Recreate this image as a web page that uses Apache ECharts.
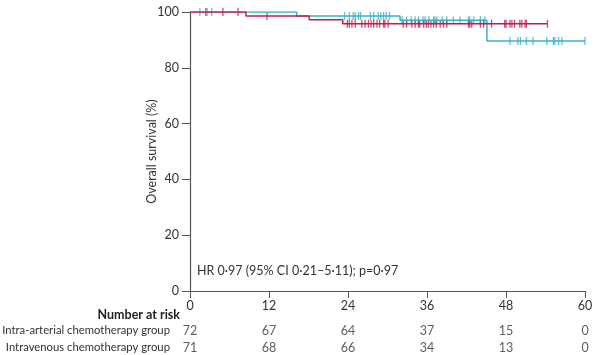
<!DOCTYPE html>
<html><head><meta charset="utf-8">
<script src="https://cdn.jsdelivr.net/npm/echarts@6/dist/echarts.min.js"></script>
<style>html,body{margin:0;padding:0;background:#fff}#c{width:594px;height:355px}</style>
</head><body><div id="c"></div>
<script>
// Kaplan-Meier steps [month, survival %]
const iaSteps = [[0,100],[8.5,98.6],[18.1,97.2],[23.2,95.8],[54.3,95.8]];
const ivSteps = [[0,100],[16.2,98.6],[31.9,97.0],[45.1,89.6],[60,89.6]];
// Censor marks [month, survival %]
const iaCensor = [[2.4,100],[5.0,100],[7.3,100],[11.7,98.6],
  [23.9,95.8],[24.2,95.8],[24.6,95.8],[25.1,95.8],[26.1,95.8],[26.6,95.8],[27.1,95.8],[27.5,95.8],[27.9,95.8],[28.4,95.8],[28.8,95.8],[29.4,95.8],[29.6,95.8],[30.1,95.8],
  [32.4,95.8],[32.9,95.8],[33.7,95.8],[34.2,95.8],[34.7,95.8],[34.9,95.8],[35.5,95.8],[35.9,95.8],[36.2,95.8],[36.6,95.8],[37.0,95.8],[37.4,95.8],[38.0,95.8],[38.5,95.8],[39.0,95.8],
  [42.3,95.8],[42.5,95.8],[42.8,95.8],[44.1,95.8],[44.6,95.8],[45.8,95.8],[47.8,95.8],[48.0,95.8],[48.6,95.8],[48.9,95.8],[49.3,95.8],[50.1,95.8],[50.4,95.8],[50.9,95.8],[51.1,95.8],[54.3,95.8]];
const ivCensor = [[1.5,100],[2.6,100],[3.3,100],
  [23.5,98.6],[24.2,98.6],[24.8,98.6],[25.1,98.6],[25.6,98.6],[25.9,98.6],[27.4,98.6],[27.9,98.6],[28.6,98.6],[29.0,98.6],[29.4,98.6],[29.8,98.6],[30.3,98.6],
  [32.2,97.0],[32.9,97.0],[33.6,97.0],[34.2,97.0],[34.7,97.0],[35.4,97.0],[35.7,97.0],[36.3,97.0],[37.0,97.0],[37.2,97.0],[37.5,97.0],[38.3,97.0],[39.0,97.0],[40.0,97.0],[41.0,97.0],[42.3,97.0],[42.5,97.0],[43.1,97.0],[44.1,97.0],[44.8,97.0],
  [48.6,89.6],[49.8,89.6],[50.2,89.6],[51.1,89.6],[52.1,89.6],[54.2,89.6],[55.2,89.6],[55.4,89.6],[56.0,89.6],[56.5,89.6],[60.0,89.6]];
// Number at risk
const riskTimes = [0,12,24,36,48,60];
const groups = ['Intra-arterial chemotherapy group','Intravenous chemotherapy group'];
const iaRisk = [72,67,64,37,15,0];
const ivRisk = [71,68,66,34,13,0];
const xTicks = [0,12,24,36,48,60];
const yTicks = [0,20,40,60,80,100];

const RED = '#c21c4f', CYAN = '#3bb2ca', AX = '#555';
const FONT = 'Lato, "Open Sans", sans-serif';
const chart = echarts.init(document.getElementById('c'));
const riskData = [];
riskTimes.forEach((t,i)=>{ riskData.push([t, groups[0], iaRisk[i]]); riskData.push([t, groups[1], ivRisk[i]]); });
chart.setOption({
  animation:false,
  textStyle:{fontFamily:FONT},
  grid:[{left:190,right:9,top:12,bottom:64,containLabel:false,outerBoundsMode:'none'},
        {left:190,right:9,top:322,height:34,containLabel:false,outerBoundsMode:'none'}],
  xAxis:[{type:'value',gridIndex:0,min:0,max:60,interval:12,
    axisLine:{show:true,lineStyle:{color:AX,width:1.2}},
    axisTick:{show:true,length:7,lineStyle:{color:AX}},
    axisLabel:{color:'#333',fontSize:12.5,margin:8,fontFamily:FONT},
    splitLine:{show:false}},
    {type:'value',gridIndex:1,min:0,max:60,interval:12,show:false}],
  yAxis:[{type:'value',gridIndex:0,min:0,max:100,interval:20,
    name:'Overall survival (%)',nameLocation:'middle',nameRotate:90,nameGap:32,nameMoveOverlap:false,
    nameTextStyle:{color:'#333',fontSize:12.5,fontFamily:FONT},
    axisLine:{show:true,lineStyle:{color:AX,width:1.2}},
    axisTick:{show:true,length:8,lineStyle:{color:AX}},
    axisLabel:{color:'#333',fontSize:12.5,margin:11,fontFamily:FONT},
    splitLine:{show:false}},
    {type:'category',gridIndex:1,data:groups,inverse:true,
    axisLine:{show:false},axisTick:{show:false},
    axisLabel:{color:'#333',fontSize:11.3,margin:20,fontFamily:FONT}}],
  graphic:[
    {type:'text',left:197,top:264,style:{text:'HR 0·97 (95% CI 0·21–5·11); p=0·97',fill:'#333',font:'12.5px '+FONT}},
    {type:'text',right:414,top:308,style:{text:'Number at risk',fill:'#222',font:'bold 12.5px '+FONT,textAlign:'right'}}
  ],
  series:[
    {type:'line',name:groups[1],data:ivSteps,step:'end',showSymbol:false,lineStyle:{color:CYAN,width:1.5},xAxisIndex:0,yAxisIndex:0},
    {type:'line',name:groups[0],data:iaSteps,step:'end',showSymbol:false,lineStyle:{color:RED,width:1.5},xAxisIndex:0,yAxisIndex:0},
    {type:'scatter',data:ivCensor,symbol:'rect',symbolSize:[1.3,8],itemStyle:{color:CYAN},xAxisIndex:0,yAxisIndex:0},
    {type:'scatter',data:iaCensor,symbol:'rect',symbolSize:[1.3,8],itemStyle:{color:RED},xAxisIndex:0,yAxisIndex:0},
    {type:'scatter',data:riskData,xAxisIndex:1,yAxisIndex:1,symbolSize:0,clip:false,
      label:{show:true,position:'inside',formatter:p=>String(p.value[2]),color:'#333',fontSize:12.5,fontFamily:FONT}}
  ]
});
</script></body></html>
